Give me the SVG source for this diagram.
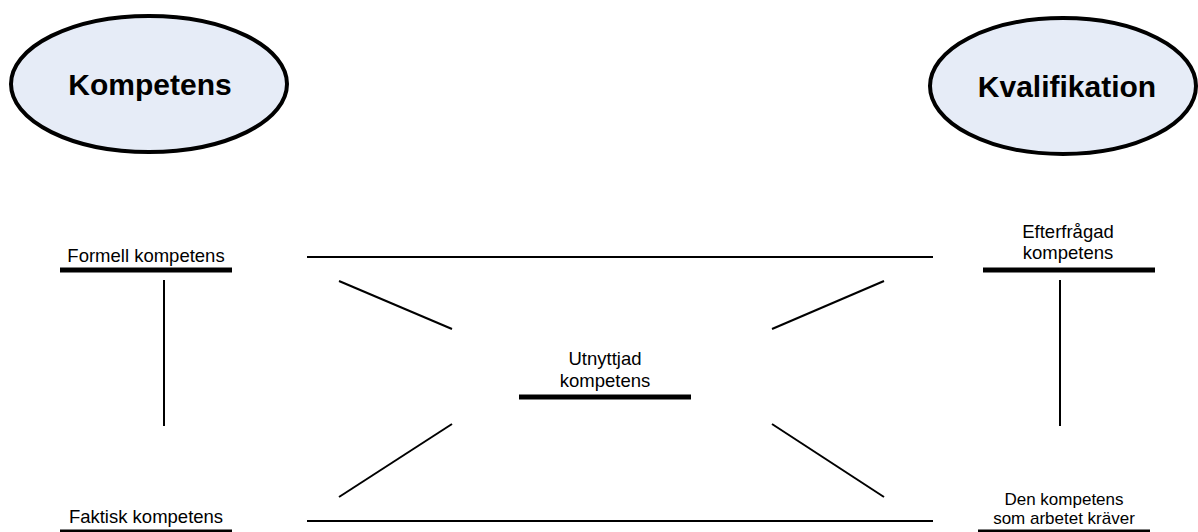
<svg xmlns="http://www.w3.org/2000/svg" width="1198" height="532" viewBox="0 0 1198 532">
<style>
.ell{fill:#e6ecf7;stroke:#000;stroke-width:4}
.big{font-family:"Liberation Sans",Arial,sans-serif;font-weight:bold;font-size:30px;fill:#000;text-anchor:middle}
.lbl{font-family:"Liberation Sans",Arial,sans-serif;font-size:18.5px;fill:#000;text-anchor:middle}
.sm{font-size:17px}
.bar{stroke:#000;stroke-width:5}
.conn line{stroke:#000;stroke-width:2}
</style>
<rect width="1198" height="532" fill="#fff"/>
<g id="kompetens">
<ellipse class="ell" cx="149" cy="84" rx="138" ry="68"/>
<text class="big" x="150" y="95">Kompetens</text>
</g>
<g id="kvalifikation">
<ellipse class="ell" cx="1063" cy="86" rx="133" ry="68"/>
<text class="big" x="1067" y="97">Kvalifikation</text>
</g>
<g id="formell">
<text class="lbl" x="146" y="262">Formell kompetens</text>
<line class="bar" x1="60" y1="270" x2="232" y2="270"/>
</g>
<g id="efterfragad">
<text class="lbl" x="1068" y="238">Efterfrågad</text>
<text class="lbl" x="1068" y="259">kompetens</text>
<line class="bar" x1="983" y1="270" x2="1155" y2="270"/>
</g>
<g id="utnyttjad">
<text class="lbl" x="605" y="365">Utnyttjad</text>
<text class="lbl" x="605" y="387">kompetens</text>
<line class="bar" x1="519" y1="397" x2="691" y2="397"/>
</g>
<g id="faktisk">
<text class="lbl" x="146" y="523">Faktisk kompetens</text>
<line class="bar" x1="60" y1="532" x2="232" y2="532"/>
</g>
<g id="kraver">
<text class="lbl sm" x="1064" y="505">Den kompetens</text>
<text class="lbl sm" x="1064" y="524">som arbetet kräver</text>
<line class="bar" x1="978" y1="532" x2="1150" y2="532"/>
</g>
<g id="connectors" class="conn">
<line x1="164" y1="280" x2="164" y2="426"/>
<line x1="1060" y1="280" x2="1060" y2="426"/>
<line x1="307" y1="257" x2="933" y2="257"/>
<line x1="307" y1="521" x2="933" y2="521"/>
<line x1="339" y1="281" x2="452" y2="329"/>
<line x1="884" y1="281" x2="772" y2="329"/>
<line x1="452" y1="424" x2="339" y2="497"/>
<line x1="772" y1="424" x2="884" y2="497"/>
</g>
</svg>
